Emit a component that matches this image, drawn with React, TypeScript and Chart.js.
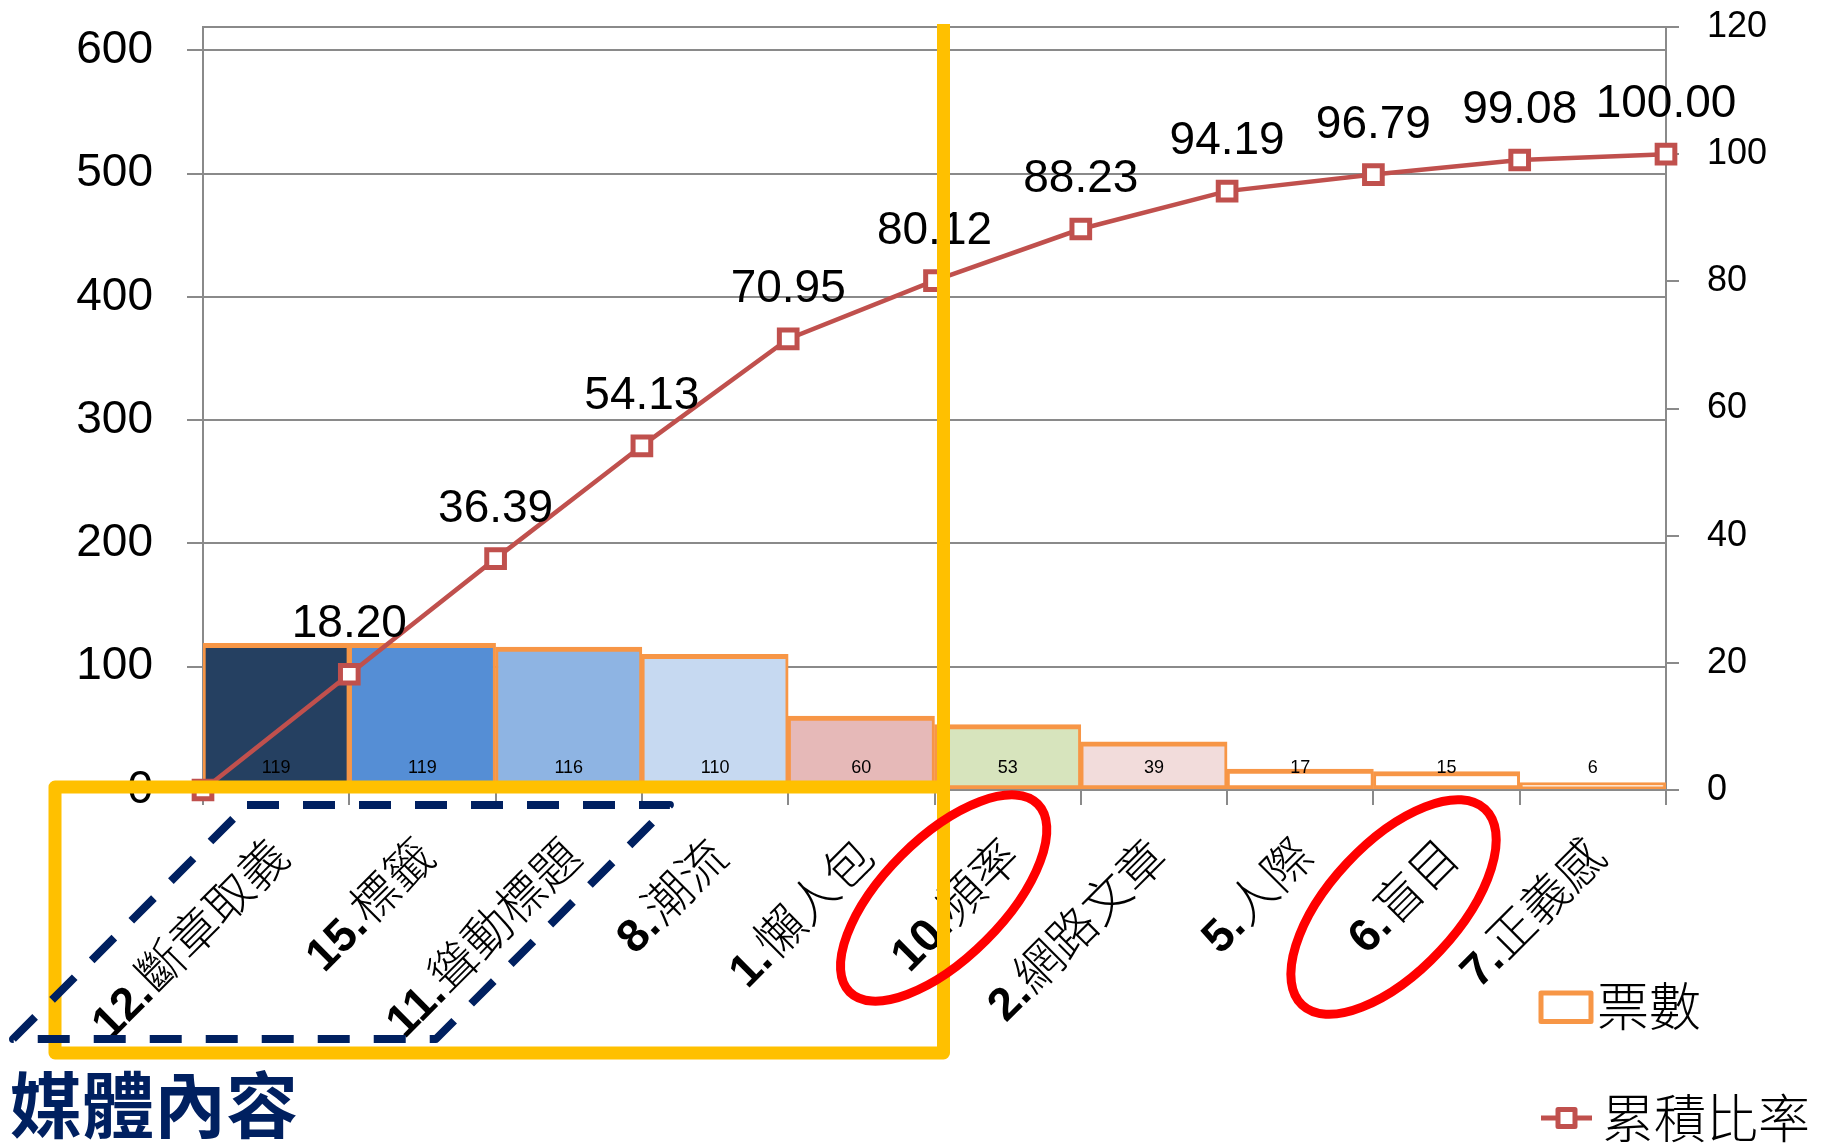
import React, { useEffect, useRef } from 'react';
import { Chart, registerables } from 'chart.js';

Chart.register(...registerables);

// ---- data ----
const categories = ['12.斷章取義', '15.標籤', '11.聳動標題', '8.潮流', '1.懶人包', '10.頻率', '2.網路文章', '5.人際', '6.盲目', '7.正義感'];
const votes = [119, 119, 116, 110, 60, 53, 39, 17, 15, 6];
const cumulativePct = [0, 18.2, 36.39, 54.13, 70.95, 80.12, 88.23, 94.19, 96.79, 99.08, 100.0];
const boundaryLabels = ['0', ...categories];
const barColors = ['#254061', '#558ED5', '#8EB4E3', '#C6D9F1', '#E6B9B8', '#D7E4BD', '#F2DCDB', '#FFFFFF', '#FFFFFF', '#FFFFFF'];
const leftTicks = [0, 100, 200, 300, 400, 500, 600];
const rightTicks = [0, 20, 40, 60, 80, 100, 120];
const seriesNames = ['票數', '累積比率'];
const axisTitle = '媒體內容';
const circledIdx = [5, 8];
const groupedRange = [0, 3]; // boundary indices of dashed group
const cutoffBoundary = 5;

const ORANGE = '#F79646';
const RED = '#C0504D';
const GRAY = '#8A8A8A';
const YELLOW = '#FFC000';
const NAVY = '#002060';
const CJK = '"Noto Sans CJK TC"';
const LAT = '"Liberation Sans"';

const overlay = {
  id: 'overlay',
  afterDraw(chart: any) {
    const { ctx, chartArea: area, scales } = chart;
    const xs = scales.x;
    const xb = scales.x2;
    const H = chart.height;
    ctx.save();

    // bar value labels
    const barMeta = chart.getDatasetMeta(1);
    ctx.fillStyle = '#000';
    ctx.font = `18px ${LAT}`;
    ctx.textAlign = 'center';
    ctx.textBaseline = 'alphabetic';
    barMeta.data.forEach((el: any, i: number) => {
      ctx.fillText(String(votes[i]), el.x, area.bottom - 17);
    });

    // cumulative labels
    const lineMeta = chart.getDatasetMeta(0);
    ctx.font = `46px ${LAT}`;
    lineMeta.data.forEach((el: any, i: number) => {
      if (i === 0) return;
      ctx.fillText(cumulativePct[i].toFixed(2), el.x, el.y - 37);
    });

    // category labels (rotated)
    categories.forEach((cat, i) => {
      const m = cat.match(/^(\d+\.)(.*)$/);
      const num = m ? m[1] : '';
      const name = m ? m[2] : cat;
      const tx = xs.getPixelForValue(i) + 3;
      const ty = area.bottom + 57;
      ctx.save();
      ctx.translate(tx, ty);
      ctx.rotate(-Math.PI / 4);
      ctx.textAlign = 'right';
      ctx.textBaseline = 'alphabetic';
      ctx.fillStyle = '#000';
      ctx.font = `300 48px ${CJK}`;
      const w = ctx.measureText(name).width;
      ctx.fillText(name, 0, 18);
      ctx.font = `bold 46px ${LAT}`;
      ctx.fillText(num, -w - 1, 18);
      ctx.restore();
    });

    // yellow highlight
    const vx = xb.getPixelForValue(cutoffBoundary) + 9;
    const rl = area.left - 148;
    const rt = area.bottom - 3;
    const rb = area.bottom + 263;
    ctx.strokeStyle = YELLOW;
    ctx.lineWidth = 13;
    ctx.lineJoin = 'round';
    ctx.lineCap = 'butt';
    ctx.beginPath();
    ctx.moveTo(vx, area.top - 3);
    ctx.lineTo(vx, rb);
    ctx.stroke();
    ctx.beginPath();
    ctx.rect(rl, rt, vx - rl, rb - rt);
    ctx.stroke();

    // navy dashed parallelogram
    const tlx = xb.getPixelForValue(groupedRange[0]) + 44;
    const trx = xb.getPixelForValue(groupedRange[1]) + 28;
    const ty0 = area.bottom + 15;
    const ty1 = area.bottom + 249;
    const sl = ty1 - ty0;
    ctx.strokeStyle = NAVY;
    ctx.lineWidth = 8;
    ctx.setLineDash([32, 24]);
    ctx.beginPath();
    ctx.moveTo(tlx, ty0);
    ctx.lineTo(trx, ty0);
    ctx.lineTo(trx - sl, ty1);
    ctx.lineTo(tlx - sl, ty1);
    ctx.closePath();
    ctx.stroke();
    ctx.setLineDash([]);

    // red ellipses
    const ell = [
      { dx: -64, dy: 108, a: 133, b: 60, r: -45 },
      { dx: -53, dy: 117, a: 134, b: 64, r: -47 },
    ];
    ctx.strokeStyle = '#FF0000';
    ctx.lineWidth = 9;
    circledIdx.forEach((ci, k) => {
      const e = ell[k];
      ctx.beginPath();
      ctx.ellipse(xs.getPixelForValue(ci) + e.dx, area.bottom + e.dy, e.a, e.b, (e.r * Math.PI) / 180, 0, Math.PI * 2);
      ctx.stroke();
    });

    // title
    ctx.fillStyle = NAVY;
    ctx.font = `bold 72px ${CJK}`;
    ctx.textAlign = 'left';
    ctx.textBaseline = 'alphabetic';
    ctx.fillText(axisTitle, 10, H - 11);

    // legend
    const lx = area.right - 125;
    ctx.strokeStyle = ORANGE;
    ctx.lineWidth = 5;
    ctx.lineJoin = 'round';
    ctx.strokeRect(lx, H - 150, 50, 28.5);
    ctx.fillStyle = '#000';
    ctx.font = `300 52px ${CJK}`;
    ctx.fillText(seriesNames[0], lx + 56, H - 117);

    ctx.strokeStyle = RED;
    ctx.lineWidth = 5;
    ctx.beginPath();
    ctx.moveTo(lx, H - 25);
    ctx.lineTo(lx + 51, H - 25);
    ctx.stroke();
    ctx.fillStyle = '#fff';
    ctx.fillRect(lx + 17, H - 33.5, 17, 17);
    ctx.strokeRect(lx + 17, H - 33.5, 17, 17);
    ctx.fillStyle = '#000';
    ctx.fillText(seriesNames[1], lx + 61, H - 5);

    ctx.restore();
  },
};

export default function App() {
  const ref = useRef<HTMLCanvasElement | null>(null);
  useEffect(() => {
    if (!ref.current) return;
    Chart.defaults.font.family = 'Liberation Sans';
    const chart = new Chart(ref.current, {
      type: 'bar',
      data: {
        labels: categories,
        datasets: [
          {
            type: 'line',
            label: seriesNames[1],
            data: cumulativePct,
            xAxisID: 'x2',
            yAxisID: 'y2',
            borderColor: RED,
            borderWidth: 4.5,
            pointStyle: 'rect',
            pointRadius: 12.5,
            pointBorderWidth: 5,
            pointBackgroundColor: '#FFFFFF',
            pointBorderColor: RED,
            clip: false,
            order: 0,
            tension: 0,
          } as any,
          {
            type: 'bar',
            label: seriesNames[0],
            data: votes,
            backgroundColor: barColors,
            borderColor: ORANGE,
            borderWidth: { top: 5, bottom: 4, left: 3, right: 3 },
            borderSkipped: false,
            categoryPercentage: 1,
            barPercentage: 1,
            grouped: false,
            xAxisID: 'x',
            yAxisID: 'y',
            order: 1,
          } as any,
        ],
      },
      options: {
        responsive: false,
        animation: false,
        devicePixelRatio: 1,
        events: [],
        layout: { padding: { top: 27, left: 0, right: 0, bottom: 0 } },
        plugins: { legend: { display: false }, tooltip: { enabled: false } },
        scales: {
          x: {
            type: 'category',
            position: 'bottom',
            offset: true,
            grid: { offset: true, drawOnChartArea: false, drawTicks: true, tickLength: 15, color: GRAY, lineWidth: 2 },
            border: { display: true, color: GRAY, width: 2 },
            ticks: { display: false },
            afterFit: (s: any) => {
              s.height = 353;
              s.paddingLeft = 0;
              s.paddingRight = 0;
            },
          },
          x2: {
            type: 'category',
            labels: boundaryLabels,
            offset: false,
            display: false,
          },
          y: {
            position: 'left',
            min: 0,
            max: 619,
            afterBuildTicks: (s: any) => {
              s.ticks = leftTicks.map((v) => ({ value: v }));
            },
            grid: { color: GRAY, lineWidth: 2, tickLength: 16 },
            border: { display: true, color: GRAY, width: 2 },
            ticks: { font: { family: 'Liberation Sans', size: 46 }, color: '#000', padding: 34 },
            afterFit: (s: any) => {
              s.width = 203;
              s.paddingTop = 0;
              s.paddingBottom = 0;
            },
          },
          y2: {
            position: 'right',
            min: 0,
            max: 120,
            afterBuildTicks: (s: any) => {
              s.ticks = rightTicks.map((v) => ({ value: v }));
            },
            grid: {
              drawOnChartArea: true,
              color: (c: any) => (c.tick && c.tick.value === 120 ? GRAY : 'rgba(0,0,0,0)'),
              tickColor: GRAY,
              lineWidth: 2,
              tickLength: 13,
            },
            border: { display: true, color: GRAY, width: 2 },
            ticks: { font: { family: 'Liberation Sans', size: 36 }, color: '#000', padding: 28 },
            afterFit: (s: any) => {
              s.width = 164;
              s.paddingTop = 0;
              s.paddingBottom = 0;
            },
          },
        },
      } as any,
      plugins: [overlay],
    });
    return () => chart.destroy();
  }, []);

  return (
    <div style={{ width: 1830, height: 1143, background: '#fff' }}>
      <style>{'body{margin:0;overflow:hidden;background:#fff}'}</style>
      <canvas ref={ref} width={1830} height={1143} style={{ display: 'block' }} />
    </div>
  );
}
